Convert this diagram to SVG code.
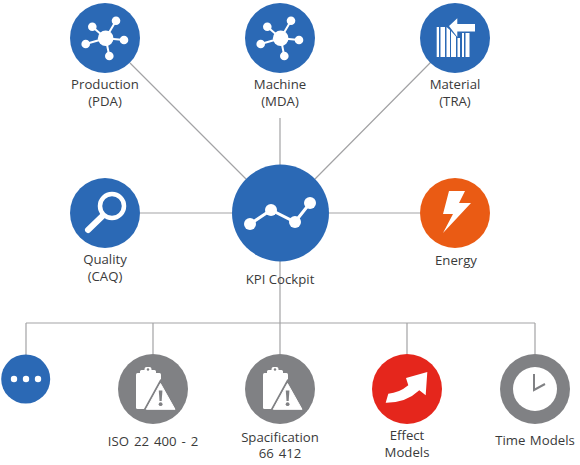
<svg xmlns="http://www.w3.org/2000/svg" width="580" height="465" viewBox="0 0 580 465">
<style>
text{font-family:"Open Sans","Noto Sans","Liberation Sans",sans-serif;font-size:13.200px;fill:#3a3a3a;text-anchor:middle}
.c{stroke:#a3a3a5;stroke-width:1.2;fill:none}
.b{fill:#2b69b5}.g{fill:#808184}.w{fill:#fff}
.l{stroke:#fff;stroke-width:2;fill:none}
</style>
<defs>
<g id="hub">
<path class="l" d="M.7 .3L-12.700-11.300M.7 .3L11-17.300M.7 .3L19 2M.7 .3L4.300 18M.7 .3L-19.300 6"/>
<circle class="w" cx=".7" cy=".3" r="7.800"/><circle class="w" cx="-12.700" cy="-11.300" r="4.300"/><circle class="w" cx="11" cy="-17.300" r="4.300"/><circle class="w" cx="19" cy="2" r="4.300"/><circle class="w" cx="4.300" cy="18" r="4.300"/><circle class="w" cx="-19.300" cy="6" r="4.300"/>
</g>
<g id="clip">
<rect class="w" x="-17" y="-16" width="25" height="36" rx="1.500"/>
<path class="w" d="M-13-14V-17.500Q-13-19-11.500-19H-8.500V-20Q-8.500-22-6.500-22H-3.500Q-1.500-22-1.500-20V-19H1.500Q3-19 3-17.500V-14Z"/>
<circle cx="-5" cy="-19.500" r="1.200" fill="#808184"/>
<path d="M7.500-8L-9 22H25Z" fill="#808184" stroke="#808184" stroke-width="2"/>
<path class="w" d="M7.500-5.500L-6.700 20.300H22Z" stroke="#fff" stroke-width="1" stroke-linejoin="round"/>
<path fill="#808184" d="M5.800 1.500H9.400L8.700 12H6.500Z"/><circle cx="7.600" cy="15.200" r="1.900" fill="#808184"/>
</g>
</defs>
<g id="connectors">
<path class="c" d="M130 63L246 179M280 118V165M431 62L315 179M140 213H232M329 213H420M280 261V323M26 323H535M26 323V355M153 323V354M280 323V354M407 323V354M535 323V354"/>
</g>
<g id="production"><circle class="b" cx="105" cy="38" r="35"/><use href="#hub" x="105" y="38"/><text x="105" y="89">Production<tspan x="105" dy="16.500">(PDA)</tspan></text></g>
<g id="machine"><circle class="b" cx="280" cy="38" r="35"/><use href="#hub" x="280" y="38"/><text x="280" y="89">Machine<tspan x="280" dy="16.500">(MDA)</tspan></text></g>
<g id="material"><circle class="b" cx="455" cy="38" r="35"/>
<path class="w" d="M436.700 27H439V57H436.700ZM440.500 27H445V57H440.500ZM446.500 27L450 30V57H446.500Z"/>
<path class="w" d="M451 31L456 36.500V57H451ZM457.500 38H460V57H457.500Z"/>
<path class="w" d="M462 33H464V57H462ZM465.500 33H469.500V57H465.500Z"/>
<path class="w" d="M449 26L457.300 18.300V24H475V31.500H457.300V37Z"/>
<text x="455" y="89">Material<tspan x="455" dy="16.500">(TRA)</tspan></text></g>
<g id="quality"><circle class="b" cx="105" cy="213" r="35"/>
<circle cx="112" cy="206" r="12" fill="none" stroke="#fff" stroke-width="4.500"/>
<path d="M102.500 216L88 230" stroke="#fff" stroke-width="6" stroke-linecap="round"/>
<text x="105" y="264">Quality<tspan x="105" dy="16.500">(CAQ)</tspan></text></g>
<g id="kpi"><circle class="b" cx="280.500" cy="213" r="48.500"/>
<path d="M250 224L271 210L295 222L310 203" fill="none" stroke="#fff" stroke-width="3"/>
<circle class="w" cx="250" cy="224" r="6"/><circle class="w" cx="271" cy="210" r="6"/><circle class="w" cx="295" cy="222" r="6"/><circle class="w" cx="310" cy="203" r="6"/>
<text x="280" y="284">KPI Cockpit</text></g>
<g id="energy"><circle fill="#ea5b14" cx="455" cy="213" r="35"/>
<path class="w" d="M449 191H465L459 203H471L443 233L453 214H443Z"/>
<text x="456" y="265">Energy</text></g>
<g id="more"><circle class="b" cx="25.700" cy="379" r="24.500"/><circle class="w" cx="14" cy="379" r="3.200"/><circle class="w" cx="26" cy="379" r="3.200"/><circle class="w" cx="38" cy="379" r="3.200"/></g>
<g id="iso"><circle class="g" cx="153" cy="389" r="35"/><use href="#clip" x="153" y="389"/><text x="153" y="446" word-spacing="1.500">ISO 22 400 - 2</text></g>
<g id="spec"><circle class="g" cx="280" cy="389" r="35"/><use href="#clip" x="280" y="389"/><text x="280" y="441.500">Spacification<tspan x="280" dy="16.500" word-spacing="1.500">66 412</tspan></text></g>
<g id="effect"><circle fill="#e5261c" cx="407" cy="389" r="35"/>
<path class="w" d="M388.300 393.700Q399 393 408.300 385.300L406 378L427.300 372L425.700 395.300L419.300 390.300Q406 403 385.700 402.700Z"/>
<text x="407" y="440">Effect<tspan x="407" dy="16.500">Models</tspan></text></g>
<g id="time"><circle class="g" cx="535" cy="389" r="35"/><circle class="w" cx="535" cy="389" r="22"/>
<path d="M534 374V390L545 384" fill="none" stroke="#808184" stroke-width="2"/>
<text x="535" y="445" word-spacing="1">Time Models</text></g>
</svg>
